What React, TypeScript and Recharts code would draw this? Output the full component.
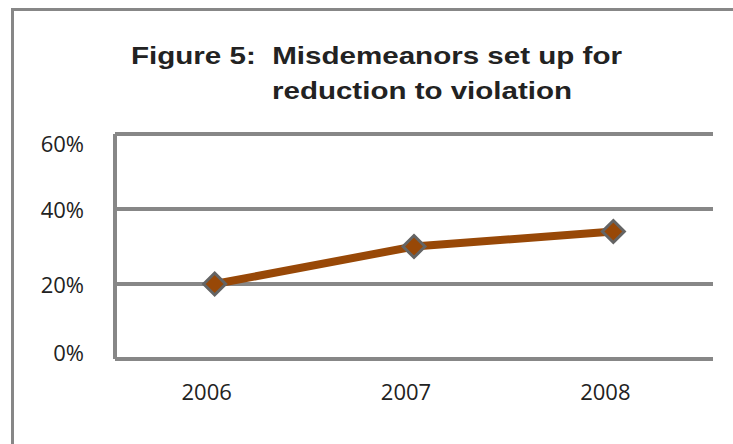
import React from 'react';
import { LineChart, Line, XAxis, YAxis, CartesianGrid } from 'recharts';

// values
const years = ['2006', '2007', '2008'];
const shares = [20, 30, 34];
const yTicks = [0, 20, 40, 60];
const titleLines = ['Figure 5:  Misdemeanors set up for', 'reduction to violation'];

const data = years.map((year, i) => ({ year, share: shares[i] }));

const GRID = '#878787';
const LINE = '#984807';
const TICK_FONT = '"Open Sans", sans-serif';

// the top and bottom labels sit a bit inside the plot in the original
const yNudge: { [k: number]: number } = { 60: 9, 0: -7 };

const YTick = ({ x, y, payload }: any) => (
  <text
    x={x}
    y={y + (yNudge[payload.value] || 0)}
    textAnchor="end"
    dominantBaseline="central"
    fill="#222"
    fontSize={22}
    fontFamily={TICK_FONT}
  >
    {payload.value}%
  </text>
);

const XTick = ({ x, y, payload }: any) => (
  <text x={x - 8} y={y} dy="0.71em" textAnchor="middle" fill="#222" fontSize={22} fontFamily={TICK_FONT}>
    {payload.value}
  </text>
);

const Diamond = ({ cx, cy }: any) => {
  if (cx == null || cy == null) return null;
  const r = 11;
  return (
    <polygon
      points={`${cx},${cy - r} ${cx + r},${cy} ${cx},${cy + r} ${cx - r},${cy}`}
      fill={LINE}
      stroke="#646464"
      strokeWidth={3}
    />
  );
};

export default function App() {
  return (
    <div style={{ position: 'absolute', left: 0, top: 0, width: 733, height: 444, background: '#fff', overflow: 'hidden' }}>
      <div
        style={{
          position: 'absolute',
          left: 11,
          top: 8,
          width: 740,
          height: 460,
          borderLeft: `3px solid ${GRID}`,
          borderTop: `3px solid ${GRID}`,
        }}
      />
      <svg width={733} height={130} style={{ position: 'absolute', left: 0, top: 0 }}>
        <text
          x={131}
          y={64}
          textLength={491}
          lengthAdjust="spacingAndGlyphs"
          fontFamily='"Liberation Sans", Arial, sans-serif'
          fontWeight="bold"
          fontSize={24}
          fill="#222"
          style={{ whiteSpace: 'pre' }}
        >
          {titleLines[0]}
        </text>
        <text
          x={272}
          y={99}
          textLength={300}
          lengthAdjust="spacingAndGlyphs"
          fontFamily='"Liberation Sans", Arial, sans-serif'
          fontWeight="bold"
          fontSize={24}
          fill="#222"
        >
          {titleLines[1]}
        </text>
      </svg>
      <div style={{ position: 'absolute', left: 0, top: 0 }}>
        <LineChart width={733} height={444} data={data} margin={{ top: 134, right: 20, left: 0, bottom: 45 }}>
          <CartesianGrid horizontal vertical={false} stroke={GRID} strokeWidth={4} />
          <XAxis
            dataKey="year"
            scale="band"
            height={40}
            axisLine={{ stroke: GRID, strokeWidth: 4 }}
            tickLine={false}
            tickSize={0}
            tickMargin={25}
            tick={<XTick />}
          />
          <YAxis
            width={115}
            domain={[0, 60]}
            ticks={yTicks}
            axisLine={{ stroke: GRID, strokeWidth: 4 }}
            tickLine={false}
            tickSize={0}
            tickMargin={31}
            tick={<YTick />}
          />
          <Line
            type="linear"
            dataKey="share"
            stroke={LINE}
            strokeWidth={8}
            dot={<Diamond />}
            activeDot={false}
            isAnimationActive={false}
          />
        </LineChart>
      </div>
    </div>
  );
}
